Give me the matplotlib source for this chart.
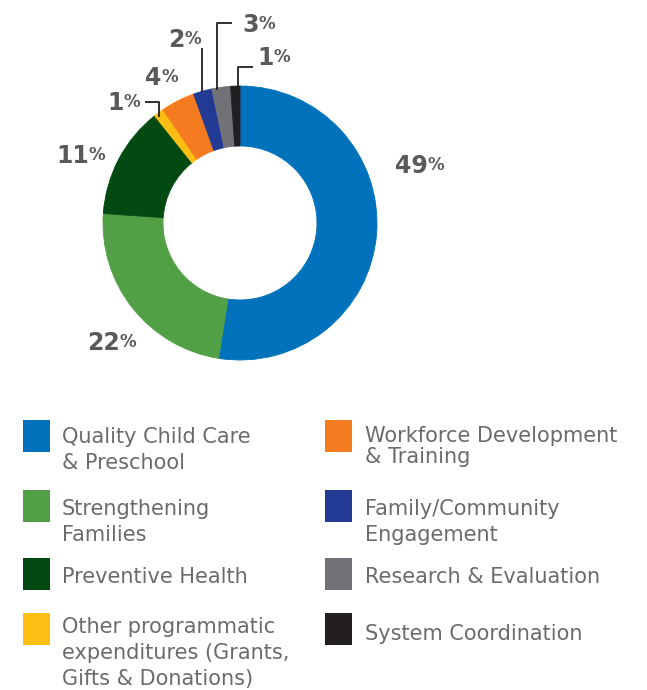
import matplotlib
matplotlib.use("Agg")
import matplotlib.pyplot as plt

categories = ["Quality Child Care\n& Preschool", "Strengthening\nFamilies", "Preventive Health",
              "Other programmatic\nexpenditures (Grants,\nGifts & Donations)",
              "Workforce Development\n& Training", "Family/Community\nEngagement",
              "Research & Evaluation", "System Coordination"]
shares = [52.5, 23.6, 13.2, 1.2, 4.0, 2.2, 2.2, 1.1]
pct_labels = ["49", "22", "11", "1", "4", "2", "3", "1"]
colors = ["#0072BC", "#52A045", "#024A12", "#FDBE14", "#F47B20", "#233A95", "#717277", "#231F20"]

LABEL_GREY = "#58595B"
TEXT_GREY = "#6A6B6E"

fig = plt.figure(figsize=(6.47, 6.90), dpi=100)
ax = fig.add_axes([0, 0, 1, 1])

# y axis runs downward (pixel-like layout), so start at 270 and go counterclockwise in data
# space -> clockwise from 12 o'clock on screen
wedges, _ = ax.pie(shares, colors=colors, radius=137, center=(240, 223), startangle=270,
                   counterclock=True, frame=True,
                   wedgeprops=dict(width=60, linewidth=0.6))
for w in wedges:
    w.set_edgecolor(w.get_facecolor())

ax.set_xlim(0, 647)
ax.set_ylim(690, 0)
ax.set_aspect("equal")
ax.axis("off")

# percentage labels: big digits, smaller raised % sign
label_pos = [(395, 173), (87, 350), (56, 163), (107, 110), (145, 85), (168, 47), (242, 32), (257, 65)]
for txt, (x, y) in zip(pct_labels, label_pos):
    t = ax.text(x, y, txt, fontsize=17, fontweight="heavy", color=LABEL_GREY,
                ha="left", va="baseline", family="DejaVu Sans")
    ax.annotate("%", xy=(0.98, 0.9), xycoords=t, fontsize=12, fontweight="heavy",
                color=LABEL_GREY, ha="left", va="top", family="DejaVu Sans")

# leader lines for the thin slices
leaders = [
    ([145, 159, 159], [102, 102, 117]),
    ([201.5, 201.5], [48, 92]),
    ([232, 217, 217], [23, 23, 90]),
    ([253, 238, 238], [67, 67, 87]),
]
for xs, ys in leaders:
    ax.plot(xs, ys, color="#231F20", linewidth=1.3, solid_capstyle="butt")

# legend, drawn by hand in two columns
legend_rows = [  # (square top, text first baseline, line spacing)
    (420, 443, 26), (490, 515, 26), (558, 583, 26), (613, 633, 26),
    (420, 442, 21), (490, 515, 26), (558, 583, 26), (613, 640, 26),
]
for i, (label, col) in enumerate(zip(categories, colors)):
    top, base, step = legend_rows[i]
    sx, tx = (23, 62) if i < 4 else (325, 365)
    ax.add_patch(plt.Rectangle((sx, top), 27, 32, facecolor=col, edgecolor="none"))
    for k, line in enumerate(label.split("\n")):
        ax.text(tx, base + k * step, line, fontsize=15, color=TEXT_GREY,
                ha="left", va="baseline", family="DejaVu Sans")

fig.savefig("out.png", dpi=100)
